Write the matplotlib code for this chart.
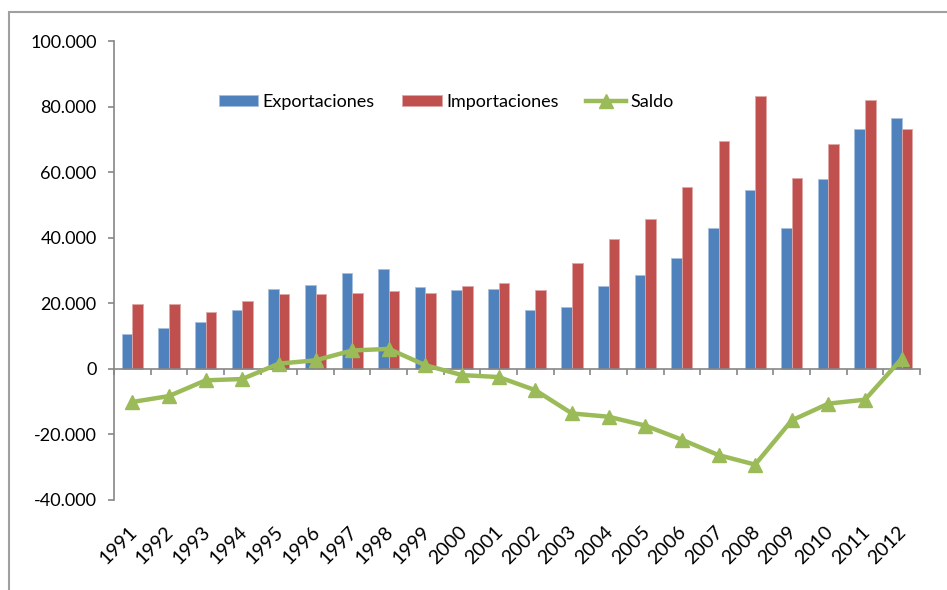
import matplotlib
matplotlib.use("Agg")
import matplotlib.pyplot as plt
from matplotlib.patches import Rectangle
from matplotlib.ticker import FuncFormatter, FixedLocator
import matplotlib.transforms as mtransforms
import numpy as np

plt.rcParams["font.family"] = ["Lato", "DejaVu Sans"]

years = [str(y) for y in range(1991, 2013)]
exportaciones = [10500, 12500, 14300, 18100, 24500, 25500, 29100, 30500, 25000, 24100,
                 24500, 18100, 18900, 25400, 28700, 33700, 43000, 54600, 43000, 57800,
                 73200, 76400]
importaciones = [19900, 19900, 17200, 20800, 22700, 22700, 23200, 23600, 23200, 25400,
                 26300, 24100, 32300, 39700, 45700, 55500, 69400, 83300, 58200, 68500,
                 82000, 73200]
saldo = [-10100, -8300, -3500, -3100, 1600, 2600, 5600, 6100, 1100, -1900,
         -2500, -6500, -13600, -14600, -17300, -21600, -26300, -29200, -15700, -10600,
         -9400, 3100]

blue = "#4F81BD"
red = "#C0504D"
green = "#9BBB59"
axis_gray = "#868686"

fig = plt.figure(figsize=(9.47, 5.90), dpi=100)
ax = fig.add_axes([114 / 947, 1 - 500 / 590, (920 - 114) / 947, 459 / 590])

x = np.arange(len(years))
w = 0.29
b1 = ax.bar(x - w / 2, exportaciones, w, color=blue, edgecolor="#a7c0de", linewidth=0.6,
            label="Exportaciones", zorder=2)
b2 = ax.bar(x + w / 2, importaciones, w, color=red, edgecolor="#dfa7a6", linewidth=0.6,
            label="Importaciones", zorder=2)
l1, = ax.plot(x, saldo, color=green, linewidth=3.2, marker="^", markersize=10,
              label="Saldo", zorder=3)

ax.set_xlim(-0.5, len(years) - 0.5)
ax.set_ylim(-40000, 100000)
ax.set_yticks(range(-40000, 100001, 20000))
ax.yaxis.set_major_formatter(FuncFormatter(lambda v, p: f"{v:,.0f}".replace(",", ".")))

for s in ["top", "right"]:
    ax.spines[s].set_visible(False)
ax.spines["left"].set_color(axis_gray)
ax.spines["bottom"].set_color(axis_gray)
ax.spines["bottom"].set_position(("data", 0))
ax.spines["left"].set_linewidth(1.2)
ax.spines["bottom"].set_linewidth(1.2)

ax.xaxis.set_major_locator(FixedLocator(np.arange(-0.5, len(years), 1.0)))
ax.set_xticklabels([])
ax.tick_params(axis="x", direction="out", length=4.5, width=1.2, color=axis_gray)
ax.tick_params(axis="y", direction="out", length=4.5, width=1.2, color=axis_gray,
               labelsize=13, pad=8)

# year labels sit below the plot, not on the zero line
trans = mtransforms.blended_transform_factory(ax.transData, ax.transAxes)
for xi, label in zip(x, years):
    ax.text(xi + 0.05, -0.064, label, transform=trans, rotation=45, fontsize=14,
            ha="right", va="center", rotation_mode="anchor")

fig.legend([b1, b2, l1], ["Exportaciones", "Importaciones", "Saldo"],
           loc="center", bbox_to_anchor=(446 / 947, 1 - 102 / 590), ncol=3,
           frameon=False, fontsize=13, handlelength=2.2, handleheight=0.6,
           handletextpad=0.25, columnspacing=1.5)

fig.patches.append(Rectangle((9 / 947, -0.1), 2, 1.1 - 12 / 590, transform=fig.transFigure,
                             fill=False, edgecolor="#a0a0a0", linewidth=1.5))

fig.savefig("out.png", dpi=100)
